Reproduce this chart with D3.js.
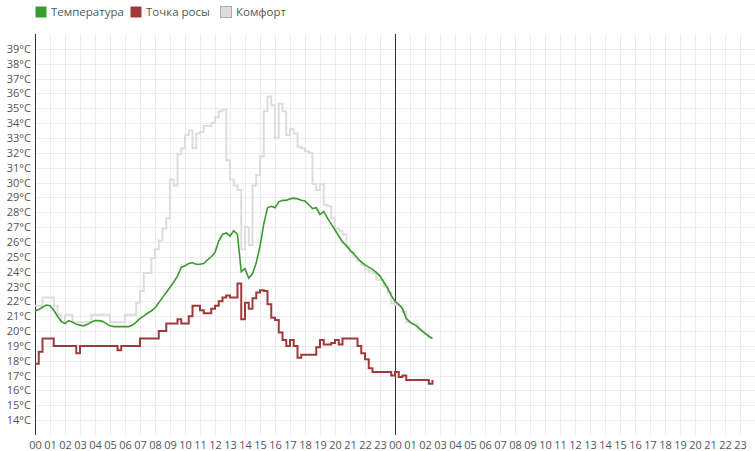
<!DOCTYPE html>
<html>
<head>
<meta charset="utf-8">
<script src="https://cdn.jsdelivr.net/npm/d3@7"></script>
<style>
  body { margin: 0; background: #fff; font-family: "Open Sans", sans-serif; }
  .tick text { fill: #555; font-size: 11px; font-family: "Open Sans", sans-serif; }
</style>
</head>
<body>
<div id="container"></div>
<script>
// readings every 15 minutes starting at 00:00 of the first day
var stepMinutes = 15;

var temperature = [
  21.35, 21.45, 21.6, 21.75, 21.7, 21.4, 21.0, 20.65, 20.5, 20.7, 20.6, 20.45,
  20.4, 20.35, 20.45, 20.6, 20.7, 20.7, 20.65, 20.5, 20.35, 20.3, 20.3, 20.3,
  20.3, 20.3, 20.4, 20.6, 20.85, 21.0, 21.2, 21.35, 21.55, 21.9, 22.25, 22.6,
  22.95, 23.3, 23.7, 24.3, 24.4, 24.55, 24.6, 24.5, 24.5, 24.55, 24.8, 25.0,
  25.3, 26.05, 26.5, 26.6, 26.4, 26.75, 26.5, 24.0, 24.2, 23.55, 23.85, 24.6,
  25.7, 27.2, 28.3, 28.4, 28.3, 28.7, 28.8, 28.8, 28.9, 28.95, 28.9, 28.8,
  28.75, 28.5, 28.25, 28.3, 27.85, 28.05, 27.6, 27.2, 26.8, 26.4, 26.0, 25.75,
  25.45, 25.2, 24.9, 24.65, 24.45, 24.3, 24.15, 23.95, 23.7, 23.3, 22.9, 22.4,
  22.0, 21.8, 21.5, 20.85, 20.6, 20.45, 20.3, 20.05, 19.85, 19.65, 19.5
];

var dewPoint = [
  17.8, 18.6, 19.5, 19.5, 19.5, 19.0, 19.0, 19.0, 19.0, 19.0, 19.0, 18.5,
  19.0, 19.0, 19.0, 19.0, 19.0, 19.0, 19.0, 19.0, 19.0, 19.0, 18.7, 19.0,
  19.0, 19.0, 19.0, 19.0, 19.5, 19.5, 19.5, 19.5, 19.5, 20.0, 20.0, 20.5,
  20.5, 20.5, 20.8, 20.5, 20.5, 21.0, 21.7, 21.7, 21.4, 21.2, 21.2, 21.5,
  21.7, 22.0, 22.25, 22.4, 22.25, 22.25, 23.2, 20.8, 21.9, 21.5, 22.2, 22.6,
  22.75, 22.7, 21.8, 20.9, 20.75, 19.9, 19.4, 19.0, 19.4, 19.0, 18.2, 18.4,
  18.4, 18.4, 18.4, 18.9, 19.4, 19.1, 19.1, 19.2, 19.4, 19.1, 19.5, 19.5,
  19.5, 19.5, 19.0, 18.5, 18.1, 17.5, 17.25, 17.25, 17.25, 17.25, 17.25, 17.0,
  17.25, 16.9, 17.0, 16.7, 16.7, 16.7, 16.7, 16.7, 16.7, 16.45, 16.7
];

var comfort = [
  21.7, 21.7, 22.25, 22.25, 22.25, 21.7, 21.1, 20.6, 21.1, 21.1, 20.6, 20.6,
  20.6, 20.6, 20.6, 21.1, 21.1, 21.1, 21.1, 21.1, 20.6, 20.6, 20.6, 20.6,
  21.1, 21.1, 21.1, 21.9, 22.7, 23.9, 23.9, 24.9, 25.5, 26.1, 26.9, 27.6,
  30.2, 29.8, 31.9, 32.3, 33.2, 33.5, 32.3, 33.3, 33.4, 33.8, 33.8, 34.0,
  34.4, 34.8, 34.9, 31.5, 30.2, 29.8, 29.5, 25.5, 27.0, 25.8, 29.8, 30.5,
  31.75, 34.8, 35.8, 35.2, 33.0, 35.3, 34.8, 33.2, 33.6, 33.3, 32.4, 32.3,
  32.1, 32.0, 29.9, 29.5, 29.9, 28.5, 28.4, 27.6, 26.9, 26.75, 26.5, 25.7,
  25.3, 25.0, 24.7, 24.45, 24.15, 24.0, 23.9, 23.45, 23.44, 23.0, 22.6, 21.85,
  21.75, 21.7, 21.3, 20.6, 20.5, 20.45, 20.1, 20.0, 19.8, 19.5
];

var seriesNames = ["Температура", "Точка росы", "Комфорт"];
var seriesColors = ["#3b9b2f", "#9e3a3a", "#dddddd"];
var yTicks = d3.range(14, 40);

var margin = {top: 34, right: 0, bottom: 16, left: 35},
    width = 755 - margin.left - margin.right,
    height = 451 - margin.top - margin.bottom;

var svg = d3.select("#container")
  .append("svg")
    .attr("width", 755)
    .attr("height", 451)
  .append("g")
    .attr("transform", "translate(" + margin.left + "," + margin.top + ")");

var start = new Date(2024, 0, 1, 0, 0);
var end = d3.timeDay.offset(start, 2);
var now = d3.timeDay.offset(start, 1);
var hourTicks = d3.timeHour.range(start, end);

function toPoints(values) {
  return values.map(function (v, i) {
    return {t: d3.timeMinute.offset(start, i * stepMinutes), v: v};
  });
}

var x = d3.scaleTime()
  .domain([start, end])
  .range([0, width]);

var y = d3.scaleLinear()
  .domain([13, 40])
  .range([height, 0]);

// grid
svg.append("g")
  .selectAll("line")
  .data(hourTicks)
  .enter()
  .append("line")
    .attr("x1", function (d) { return Math.round(x(d)) + 0.5; })
    .attr("x2", function (d) { return Math.round(x(d)) + 0.5; })
    .attr("y1", 0)
    .attr("y2", height)
    .attr("stroke", "#ececec");

svg.append("g")
  .selectAll("line")
  .data(yTicks)
  .enter()
  .append("line")
    .attr("x1", 0)
    .attr("x2", width)
    .attr("y1", function (d) { return Math.round(y(d)) + 0.5; })
    .attr("y2", function (d) { return Math.round(y(d)) + 0.5; })
    .attr("stroke", "#ececec");

// X axis
var xAxis = svg.append("g")
  .attr("transform", "translate(0," + height + ")")
  .call(d3.axisBottom(x)
    .tickValues(hourTicks)
    .tickFormat(d3.timeFormat("%H"))
    .tickSize(0)
    .tickPadding(6));
xAxis.select(".domain").remove();

// Y axis
var yAxis = svg.append("g")
  .call(d3.axisLeft(y)
    .tickValues(yTicks)
    .tickFormat(function (d) { return d + "°C"; })
    .tickSize(0)
    .tickPadding(4));
yAxis.select(".domain").remove();

svg.append("line")
  .attr("x1", 0.5).attr("x2", 0.5)
  .attr("y1", 0).attr("y2", height)
  .attr("stroke", "#333");

// current-day marker
svg.append("line")
  .attr("x1", Math.round(x(now)) + 0.5)
  .attr("x2", Math.round(x(now)) + 0.5)
  .attr("y1", 0).attr("y2", height)
  .attr("stroke", "#333");

// Lines
var line = d3.line()
  .x(function (d) { return x(d.t); })
  .y(function (d) { return y(d.v); });

var stepLine = d3.line()
  .curve(d3.curveStepAfter)
  .x(function (d) { return x(d.t); })
  .y(function (d) { return y(d.v); });

svg.append("path")
  .datum(toPoints(comfort))
  .attr("fill", "none")
  .attr("stroke", seriesColors[2])
  .attr("stroke-width", 2)
  .attr("d", stepLine);

svg.append("path")
  .datum(toPoints(dewPoint))
  .attr("fill", "none")
  .attr("stroke", seriesColors[1])
  .attr("stroke-width", 2)
  .attr("d", stepLine);

svg.append("path")
  .datum(toPoints(temperature))
  .attr("fill", "none")
  .attr("stroke", seriesColors[0])
  .attr("stroke-width", 1.6)
  .attr("d", line);

// Legend
var legendX = [35, 130, 220];
var legend = d3.select("svg").append("g")
  .selectAll("g")
  .data(seriesNames)
  .enter()
  .append("g")
    .attr("transform", function (d, i) { return "translate(" + legendX[i] + ",6)"; });

legend.append("rect")
  .attr("x", 0.5).attr("y", 0.5)
  .attr("width", 11).attr("height", 11)
  .attr("fill", function (d, i) { return seriesColors[i]; })
  .attr("stroke", function (d, i) { return i === 2 ? "#aaa" : "none"; });

legend.append("text")
  .attr("x", 16)
  .attr("y", 10)
  .attr("fill", "#555")
  .style("font-size", "11.5px")
  .text(function (d) { return d; });
</script>
</body>
</html>
